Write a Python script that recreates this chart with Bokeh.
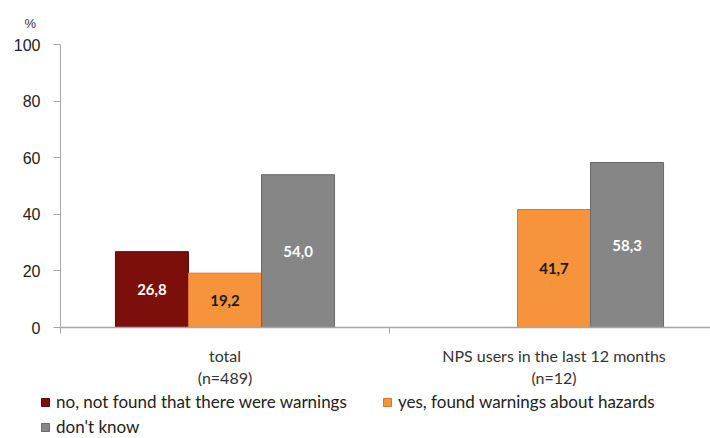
from bokeh.plotting import figure
from bokeh.layouts import column
from bokeh.models import (Range1d, FixedTicker, Title, Legend, LegendItem,
                          ColumnDataSource)
from bokeh.core.properties import value
from bokeh.embed import file_html
from bokeh.resources import INLINE

categories = ["total\n(n=489)", "NPS users in the last 12 months\n(n=12)"]
series = ["no, not found that there were warnings",
          "yes, found warnings about hazards",
          "don't know"]
no_vals = [26.8, None]
yes_vals = [19.2, 41.7]
dk_vals = [54.0, 58.3]
y_ticks = [0, 20, 40, 60, 80, 100]

colors = ["#7c0f0b", "#f7933a", "#868686"]
edge_colors = ["#5a0a07", "#d9772a", "#6a6a6a"]
text_colors = ["#ffffff", "#1a1a1a", "#ffffff"]

cat_px = 329.0
frame_px = 650.0
p = figure(width=710, height=390, output_backend="svg", toolbar_location=None,
           x_range=Range1d(0, frame_px / cat_px), y_range=Range1d(0, 100),
           min_border_left=60, min_border_right=0, min_border_top=44,
           min_border_bottom=62)
p.outline_line_color = None
p.background_fill_color = "white"
p.border_fill_color = "white"

bar_w = 0.222
offsets = [-bar_w, 0.0, bar_w]
all_vals = [no_vals, yes_vals, dk_vals]
for s, vals in enumerate(all_vals):
    xs, tops, labels = [], [], []
    for i, v in enumerate(vals):
        if v is None:
            continue
        xs.append(i + 0.5 + offsets[s])
        tops.append(v)
        labels.append(f"{v:.1f}".replace(".", ","))
    src = ColumnDataSource(dict(x=xs, top=tops, mid=[t / 2 for t in tops], lab=labels))
    p.vbar(x="x", top="top", bottom=0, width=bar_w, source=src,
           fill_color=colors[s], line_color=edge_colors[s], line_width=1)
    p.text(x="x", y="mid", text="lab", source=src, text_align="center",
           text_baseline="middle", text_color=text_colors[s],
           text_font=value("Lato"), text_font_style="bold", text_font_size="15px")

# top line at 100
p.xgrid.visible = False
p.ygrid.ticker = FixedTicker(ticks=[100])
p.ygrid.grid_line_color = "#bfbfbf"
p.ygrid.grid_line_width = 1.5

# y axis
p.yaxis.ticker = FixedTicker(ticks=y_ticks)
p.yaxis.axis_line_color = "#a6a6a6"
p.yaxis.major_tick_line_color = "#a6a6a6"
p.yaxis.major_tick_out = 7
p.yaxis.major_tick_in = 0
p.yaxis.minor_tick_line_color = None
p.yaxis.major_label_text_font = "Liberation Sans"
p.yaxis.major_label_text_font_size = "16px"
p.yaxis.major_label_text_color = "#222222"
p.yaxis.major_label_standoff = 13

# x axis
p.xaxis.ticker = FixedTicker(ticks=[0.5, 1.5], minor_ticks=[0.0, 1.0])
p.xaxis.major_label_overrides = {0.5: categories[0], 1.5: categories[1]}
p.xaxis.axis_line_color = "#a6a6a6"
p.xaxis.axis_line_width = 1.5
p.xaxis.major_tick_line_color = None
p.xaxis.major_tick_out = 0
p.xaxis.minor_tick_line_color = "#a6a6a6"
p.xaxis.minor_tick_out = 6
p.xaxis.minor_tick_in = 0
p.xaxis.major_label_text_font = "Lato"
p.xaxis.major_label_text_font_size = "16px"
p.xaxis.major_label_text_color = "#333333"
p.xaxis.major_label_standoff = 12

p.add_layout(Title(text="%", align="left", offset=-36, standoff=27,
                   text_font="Liberation Sans", text_font_size="13px",
                   text_font_style="normal", text_color="#333333"), "above")

# legend strip (second figure holding only the legend)
p2 = figure(width=710, height=48, output_backend="svg", toolbar_location=None,
            x_range=Range1d(0, 1), y_range=Range1d(0, 1),
            x_axis_location=None, y_axis_location=None,
            min_border_left=0, min_border_right=0, min_border_top=0,
            min_border_bottom=0)
frame_aligned = True
try:
    p2.frame_align = False
    frame_aligned = False
except Exception:
    pass
p2.grid.visible = False
p2.outline_line_color = None
p2.border_fill_color = "white"
p2.background_fill_color = "white"
leg_r = []
for s in range(3):
    # legend-key renderers only; their single bar lies outside the visible range
    leg_r.append(p2.vbar(x=[-5], top=[-5], bottom=-6, width=0.1,
                         fill_color=colors[s], line_color=edge_colors[s], line_width=1))
legend = Legend(items=[LegendItem(label=series[k], renderers=[leg_r[k]]) for k in range(3)],
                orientation="horizontal", ncols=2,
                location=((-20 if frame_aligned else 40), 1),
                label_text_font="Lato", label_text_font_size="17px",
                label_text_color="#222222", glyph_width=10, glyph_height=10,
                label_height=21, label_width=322, spacing=4, padding=0, margin=0,
                label_standoff=6, border_line_color=None,
                background_fill_alpha=0)
p2.add_layout(legend, "center")

layout = column(p, p2, spacing=0)
open("out.html", "w").write(file_html(layout, INLINE))
